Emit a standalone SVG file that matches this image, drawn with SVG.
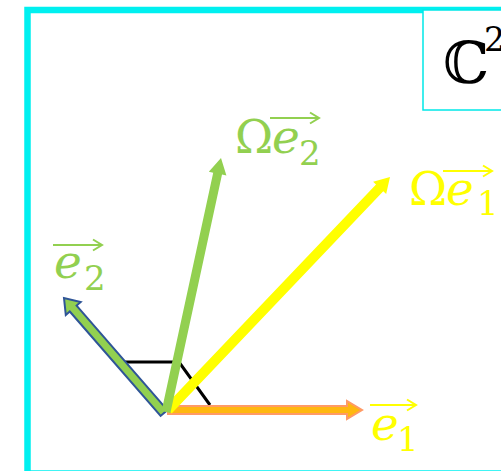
<svg xmlns="http://www.w3.org/2000/svg" width="501" height="471" viewBox="0 0 501 471">
<style>
  .lbl { font-family: "DejaVu Serif", "Liberation Serif", serif; }
  .it { font-style: italic; }
  .green { fill: #92D050; }
  .yellow { fill: #FFFF00; }
  .ovg { stroke: #92D050; stroke-width: 2; fill: none; }
  .ovy { stroke: #FFFF00; stroke-width: 2; fill: none; }
</style>
<rect width="501" height="471" fill="#FFFFFF"/>
<g id="frame">
  <rect x="27.5" y="10" width="500" height="463.5" fill="none" stroke="#00F0F0" stroke-width="6.5"/>
</g>
<g id="space-label">
  <rect x="423" y="10" width="100" height="100" fill="#FFFFFF" stroke="#00E8E8" stroke-width="1.5"/>
  <text x="443" y="83" font-family="DejaVu Serif, DejaVu Sans, serif" font-size="58" fill="#000000">ℂ</text>
  <text x="484" y="51" font-family="DejaVu Serif, serif" font-size="33" fill="#000000">2</text>
</g>
<g id="connectors">
  <path id="angle-mark" d="M123,362 H179 L210,405" fill="none" stroke="#000000" stroke-width="3"/>
  <polygon id="vec-e1" points="168,406 347,406 347,401 362,410 347,419 347,414 168,414" fill="#FFB80F" stroke="#FF9A66" stroke-width="2"/>
  <polygon id="vec-omega-e1" points="171.62,413.45 383.27,191.31 386.17,194.07 390,177 373.13,181.65 376.03,184.41 164.38,406.55" fill="#FFFF00"/>
  <polygon id="vec-e2" points="167.4,410.05 76.58,305.62 80.7,302 64,298 65.8,315 69.78,311.52 160.6,415.95" fill="#92D050" stroke="#2F5597" stroke-width="2"/>
  <polygon id="vec-omega-e2" points="170.40,412.95 222.01,174.59 226.41,175.54 221,158 208.81,171.74 213.21,172.69 161.60,411.05" fill="#92D050"/>
</g>
<g id="label-omega-e2">
  <text class="lbl green" x="235" y="153" font-size="46">Ω</text>
  <text class="lbl it green" x="272" y="153" font-size="47">e</text>
  <text class="lbl green" x="299" y="165" font-size="34">2</text>
  <path class="ovg" d="M270,118 H319 M310,112.5 L319,118 L310,123.5"/>
</g>
<g id="label-omega-e1">
  <text class="lbl yellow" x="409" y="205" font-size="46">Ω</text>
  <text class="lbl it yellow" x="446" y="205" font-size="47">e</text>
  <text class="lbl yellow" x="477" y="215" font-size="34">1</text>
  <path class="ovy" d="M443,171 H492 M483,165.5 L492,171 L483,176.5"/>
</g>
<g id="label-e2">
  <text class="lbl it green" x="54" y="278" font-size="47">e</text>
  <text class="lbl green" x="84" y="290" font-size="34">2</text>
  <path class="ovg" d="M53,245 H102 M93,239.5 L102,245 L93,250.5"/>
</g>
<g id="label-e1">
  <text class="lbl it yellow" x="371" y="440" font-size="47">e</text>
  <text class="lbl yellow" x="397" y="451" font-size="34">1</text>
  <path class="ovy" d="M370,405 H416 M407,399.5 L416,405 L407,410.5"/>
</g>
</svg>
